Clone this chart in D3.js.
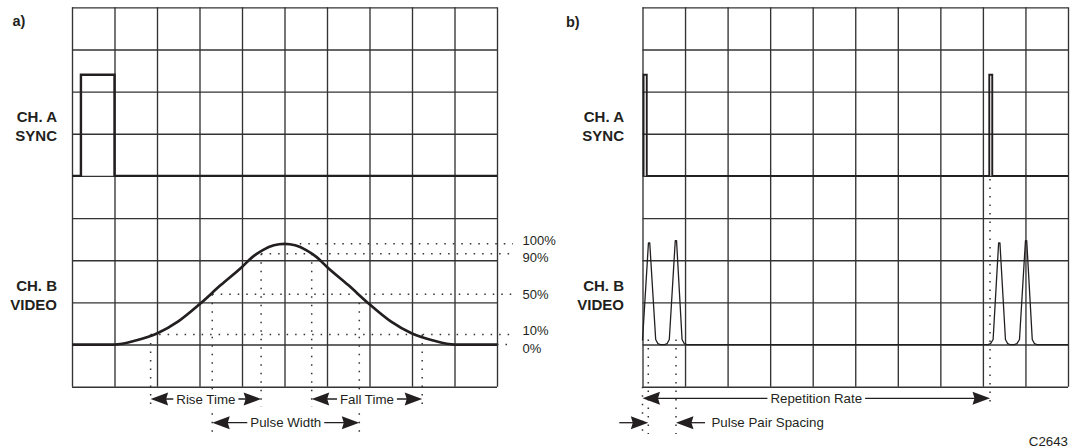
<!DOCTYPE html>
<html><head><meta charset="utf-8">
<script src="https://cdn.jsdelivr.net/npm/d3@7"></script>
<style>
body{margin:0;background:#fff}
svg{display:block}
text{font-family:"Liberation Sans",Arial,Helvetica,sans-serif;fill:#231f20}
</style></head><body>
<svg id="chart" width="1071" height="448"></svg>
<script>
// ---------------- data ----------------
const gridCols = d3.range(0, 11);          // vertical graticule lines (divisions)
const gridRows = d3.range(0, 10);          // horizontal graticule lines (divisions)

// panel a) channel A sync: [division, level 0/1]
const syncA = [[0,0],[0.21,0],[0.21,1],[1.0,1],[1.0,0],[10,0]];
// panel a) channel B video: [division, percent]
const videoA = [[0,0],[1.0,0],[1.5,4],[2.0,11],[2.5,23],[3.0,40],[3.5,59],[4.0,77],[4.25,87],[4.5,94],[4.75,98.5],[5.0,100],
                [5.25,98.5],[5.5,94],[5.75,87],[6.0,77],[6.5,59],[7.0,40],[7.5,23],[8.0,11],[8.5,4],[9.0,0],[10,0]];
// percent reference levels
const levelValues = [100, 90, 50, 10, 0];
const levelLabels = ["100%", "90%", "50%", "10%", "0%"];
const levelStarts = [5.36, 4.45, 3.30, 1.85, 10];      // division where each dotted guide starts
// crossing markers (division, percent level, arrow row)
const crossX = [1.85, 3.30, 4.45, 5.64, 6.76, 8.24];
const crossLevel = [10, 50, 90, 90, 50, 10];
const crossRow = [0, 1, 0, 0, 1, 0];
// measurement arrows of panel a)
const measureLabels = ["Rise Time", "Fall Time", "Pulse Width"];
const measureFrom = [1.85, 5.64, 3.30];
const measureTo = [4.45, 8.24, 6.76];
const measureRow = [0, 0, 1];

// panel b) channel A sync
const syncB = [[0.025,0],[0.025,1],[0.1,1],[0.1,0],[8.15,0],[8.15,1],[8.22,1],[8.22,0],[10,0]];
// panel b) channel B video (pulse pairs)
const videoB = [[0.00,4],[0.14,101],[0.17,101],[0.31,5],[0.36,1],[0.42,0],[0.52,0],[0.58,1],[0.63,5],
                [0.77,103],[0.80,103],[0.93,5],[0.98,1],[1.04,0],
                [8.12,0],[8.18,1],[8.24,5],[8.37,101],[8.40,101],[8.53,5],[8.58,1],[8.64,0],[8.74,0],
                [8.80,1],[8.86,5],[9.00,103],[9.03,103],[9.16,5],[9.21,1],[9.27,0],[10,0]];
// dotted markers of panel b)
const markerBX = [0, 0.136, 0.787, 8.167];
const repFrom = 0, repTo = 8.167;
const repLabel = "Repetition Rate";
const pairLabel = "Pulse Pair Spacing";
const pairFrom = 0.136, pairTo = 0.787;

// ---------------- layout ----------------
const svg = d3.select("#chart");
const yDiv = d3.scaleLinear().domain([0, 9]).range([7.3, 386.7]);
const yPct = d3.scaleLinear().domain([0, 100]).range([yDiv(8), yDiv(5.61)]);
const ySync = d3.scaleLinear().domain([0, 1]).range([yDiv(4), yDiv(1.6)]);
const xA = d3.scaleLinear().domain([0, 10]).range([72, 497]);
const xB = d3.scaleLinear().domain([0, 10]).range([642.5, 1068]);
const arrowY = [399, 422.7];
const ink = "#231f20";
const dotStyle = s => s.attr("stroke", "#333").attr("stroke-width", 1.5).attr("stroke-dasharray", "1.5,7").attr("fill", "none");

function grid(x) {
  const g = svg.append("g");
  const h = yDiv(9) - yDiv(0), w = x(10) - x(0);
  g.append("g").attr("transform", `translate(0,${yDiv(9)})`)
    .call(d3.axisBottom(x).tickValues(gridCols).tickSize(-h).tickSizeOuter(0).tickFormat(""));
  g.append("g").attr("transform", `translate(${x(0)},0)`)
    .call(d3.axisLeft(yDiv).tickValues(gridRows).tickSize(-w).tickSizeOuter(0).tickFormat(""));
  g.selectAll(".domain").remove();
  g.selectAll("line").attr("stroke", "#333").attr("stroke-width", 1.35);
}
grid(xA); grid(xB);

function arrowHead(g, tipX, y, dir) { // dir: -1 points left, +1 points right
  const L = 17.5, H = 6.5;
  g.append("path").attr("d", `M${tipX},${y}L${tipX - dir * L},${y - H}L${tipX - dir * (L - 2)},${y}L${tipX - dir * L},${y + H}Z`).attr("fill", ink);
}
function measure(x1, x2, y, label) {
  const g = svg.append("g");
  g.append("line").attr("x1", x1 + 10).attr("x2", x2 - 10).attr("y1", y).attr("y2", y).attr("stroke", ink).attr("stroke-width", 1.3);
  const t = g.append("text").attr("x", (x1 + x2) / 2).attr("y", y).attr("dy", "0.35em").attr("text-anchor", "middle")
    .attr("font-size", 13.3).text(label);
  const bb = t.node().getBBox();
  g.insert("rect", "text").attr("x", bb.x - 3).attr("y", bb.y).attr("width", bb.width + 6).attr("height", bb.height).attr("fill", "#fff");
  arrowHead(g, x1, y, -1); arrowHead(g, x2, y, 1);
}

// ---------- panel a ----------
levelValues.forEach((v, i) => {
  svg.append("line").attr("x1", xA(levelStarts[i])).attr("x2", 513).attr("y1", yPct(v)).attr("y2", yPct(v)).call(dotStyle);
});
crossX.forEach((d, i) => {
  svg.append("line").attr("x1", xA(d)).attr("x2", xA(d)).attr("y1", yPct(crossLevel[i])).attr("y2", crossRow[i] === 0 ? 407 : 437).call(dotStyle);
});
svg.append("path").datum(syncA).attr("d", d3.line().x(d => xA(d[0])).y(d => ySync(d[1])))
  .attr("fill", "none").attr("stroke", ink).attr("stroke-width", 2.4).attr("stroke-linejoin", "miter");
svg.append("path").datum(videoA).attr("d", d3.line().x(d => xA(d[0])).y(d => yPct(d[1])).curve(d3.curveMonotoneX))
  .attr("fill", "none").attr("stroke", ink).attr("stroke-width", 2.7);
const labelDy = [-3.3, 3.7, 0, -3.7, 4.3];
levelValues.forEach((v, i) => {
  svg.append("text").attr("x", 522.5).attr("y", yPct(v) + labelDy[i]).attr("dy", "0.35em").attr("font-size", 13).attr("fill", "#333").text(levelLabels[i]);
});
measureLabels.forEach((l, i) => measure(xA(measureFrom[i]), xA(measureTo[i]), arrowY[measureRow[i]], l));

// ---------- panel b ----------
svg.append("line").attr("x1", xB(markerBX[0])).attr("x2", xB(markerBX[0])).attr("y1", yDiv(9)).attr("y2", 434).call(dotStyle);
svg.append("line").attr("x1", xB(markerBX[1])).attr("x2", xB(markerBX[1])).attr("y1", yPct(5)).attr("y2", 434).call(dotStyle);
svg.append("line").attr("x1", xB(markerBX[2])).attr("x2", xB(markerBX[2])).attr("y1", yPct(5)).attr("y2", 434).call(dotStyle);
svg.append("line").attr("x1", xB(markerBX[3])).attr("x2", xB(markerBX[3])).attr("y1", ySync(0) + 3).attr("y2", 406).call(dotStyle);
svg.append("path").datum(syncB).attr("d", d3.line().x(d => xB(d[0])).y(d => ySync(d[1])))
  .attr("fill", "none").attr("stroke", ink).attr("stroke-width", 1.9).attr("stroke-linejoin", "miter");
svg.append("path").datum(videoB).attr("d", d3.line().x(d => xB(d[0])).y(d => yPct(d[1])))
  .attr("fill", "none").attr("stroke", ink).attr("stroke-width", 1.3).attr("stroke-linejoin", "round");
measure(xB(repFrom), xB(repTo), 398.3, repLabel);
{
  const y = 422.7, g = svg.append("g");
  const a = xB(pairFrom), b = xB(pairTo);
  g.append("line").attr("x1", a - 29).attr("x2", a - 10).attr("y1", y).attr("y2", y).attr("stroke", ink).attr("stroke-width", 1.3);
  arrowHead(g, a, y, 1);
  g.append("line").attr("x1", b + 10).attr("x2", b + 29).attr("y1", y).attr("y2", y).attr("stroke", ink).attr("stroke-width", 1.3);
  arrowHead(g, b, y, -1);
  g.append("text").attr("x", b + 35.5).attr("y", y).attr("dy", "0.35em").attr("font-size", 13.3).text(pairLabel);
}

// ---------- text labels ----------
const chLabels = [["CH. A", 122.2], ["SYNC", 140.6], ["CH. B", 291], ["VIDEO", 309.6]];
[xA(0) - 15, xB(0) - 18.5].forEach(x => {
  chLabels.forEach(([t, y]) => svg.append("text").attr("x", x).attr("y", y).attr("text-anchor", "end")
    .attr("font-size", 15).attr("font-weight", "bold").text(t));
});
svg.append("text").attr("x", 12.5).attr("y", 26).attr("font-size", 14.5).attr("font-weight", "bold").text("a)");
svg.append("text").attr("x", 566).attr("y", 26.5).attr("font-size", 14.5).attr("font-weight", "bold").text("b)");
svg.append("text").attr("x", 1068).attr("y", 445.5).attr("text-anchor", "end").attr("font-size", 13.3).attr("fill", "#333").text("C2643");
</script>
</body></html>
